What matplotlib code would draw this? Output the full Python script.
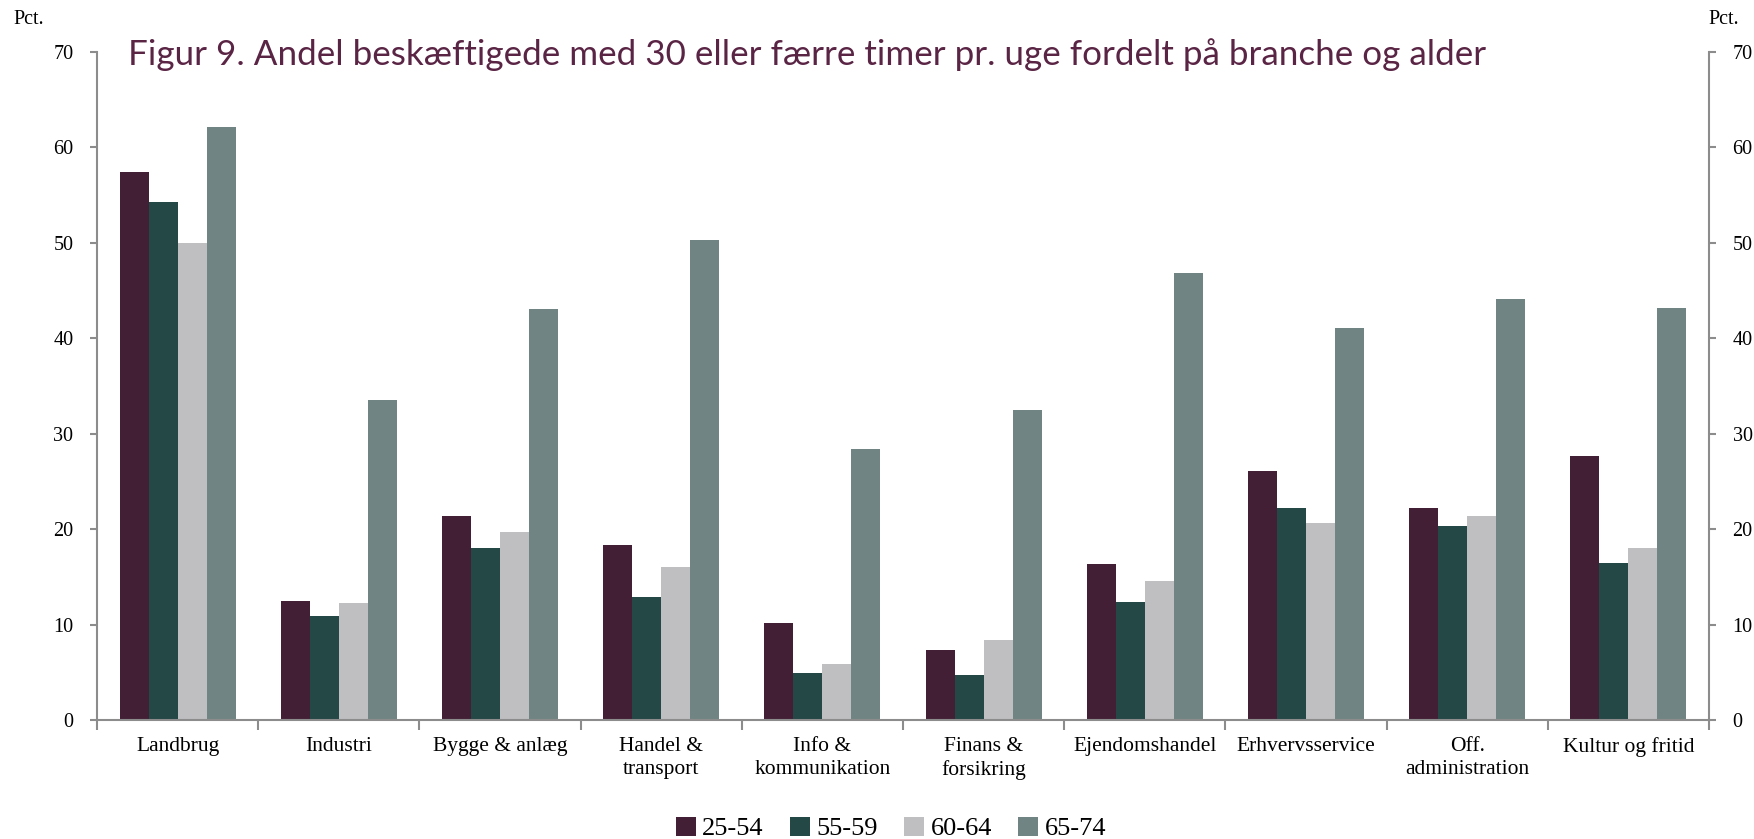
import numpy as np
import matplotlib
matplotlib.use("Agg")
import matplotlib.pyplot as plt
from matplotlib.ticker import FixedLocator

# data (pct.)
branches = ["Landbrug", "Industri", "Bygge & anlæg", "Handel &\ntransport",
            "Info &\nkommunikation", "Finans &\nforsikring", "Ejendomshandel",
            "Erhvervsservice", "Off.\nadministration", "Kultur og fritid"]
age_groups = ["25-54", "55-59", "60-64", "65-74"]
v_25_54 = [57.4, 12.5, 21.4, 18.3, 10.2, 7.3, 16.3, 26.1, 22.2, 27.6]
v_55_59 = [54.2, 10.9, 18.0, 12.9, 4.9, 4.7, 12.4, 22.2, 20.3, 16.4]
v_60_64 = [50.0, 12.3, 19.7, 16.0, 5.9, 8.4, 14.6, 20.6, 21.4, 18.0]
v_65_74 = [62.1, 33.5, 43.0, 50.3, 28.4, 32.5, 46.8, 41.0, 44.1, 43.1]
yticks = [0, 10, 20, 30, 40, 50, 60, 70]

colors = ["#421F35", "#234845", "#BFBFC1", "#708583"]
serif = "Liberation Serif"
grey = "#8C8C8C"

fig = plt.figure(figsize=(17.54, 8.39), dpi=100)
ax = fig.add_axes([0.0553, 0.1418, 0.9190, 0.7968])

x = np.arange(len(branches))
w = 0.18
series = [v_25_54, v_55_59, v_60_64, v_65_74]
for j, (vals, lab) in enumerate(zip(series, age_groups)):
    ax.bar(x + (j - 1.5) * w, vals, width=w, color=colors[j], label=lab)

ax.set_xlim(-0.5, len(branches) - 0.5)
ax.set_ylim(0, 70)
ax.set_yticks(yticks)
ax.set_xticks(x)
ax.set_xticklabels(branches, fontfamily=serif, fontsize=15.5, linespacing=1.3)
ax.xaxis.set_minor_locator(FixedLocator(np.arange(-0.5, len(branches), 1.0)))
ax.tick_params(axis="x", which="major", length=0, pad=12)
ax.tick_params(axis="x", which="minor", length=7, color=grey, width=1.5)
ax.tick_params(axis="y", length=5, color=grey, width=1.5, pad=12, labelsize=14.5)
for t in ax.get_yticklabels():
    t.set_fontfamily(serif)

for s in ["top", "right"]:
    ax.spines[s].set_visible(False)
for s in ["left", "bottom"]:
    ax.spines[s].set_color(grey)
    ax.spines[s].set_linewidth(1.5)

ax2 = ax.twinx()
ax2.set_ylim(0, 70)
ax2.set_yticks(yticks)
ax2.tick_params(axis="y", length=5, color=grey, width=1.5, pad=12, labelsize=14.5)
for t in ax2.get_yticklabels():
    t.set_fontfamily(serif)
for s in ["top", "left", "bottom"]:
    ax2.spines[s].set_visible(False)
ax2.spines["right"].set_color(grey)
ax2.spines["right"].set_linewidth(1.5)

fig.text(13 / 1754, 1 - 20 / 839, "Pct.", fontfamily=serif, fontsize=14.5, va="center", ha="left")
fig.text(1708 / 1754, 1 - 20 / 839, "Pct.", fontfamily=serif, fontsize=14.5, va="center", ha="left")

fig.text(128 / 1754, 1 - 55 / 839,
         "Figur 9. Andel beskæftigede med 30 eller færre timer pr. uge fordelt på branche og alder",
         fontfamily="Lato", fontsize=25.2, color="#5A2545", va="center", ha="left")

leg = fig.legend(loc="lower center", bbox_to_anchor=(0.508, -0.03), ncol=4, frameon=False,
                 prop={"family": serif, "size": 19}, handlelength=0.75, handleheight=0.75,
                 handletextpad=0.25, columnspacing=1.0)

fig.savefig("out.png", dpi=100)
